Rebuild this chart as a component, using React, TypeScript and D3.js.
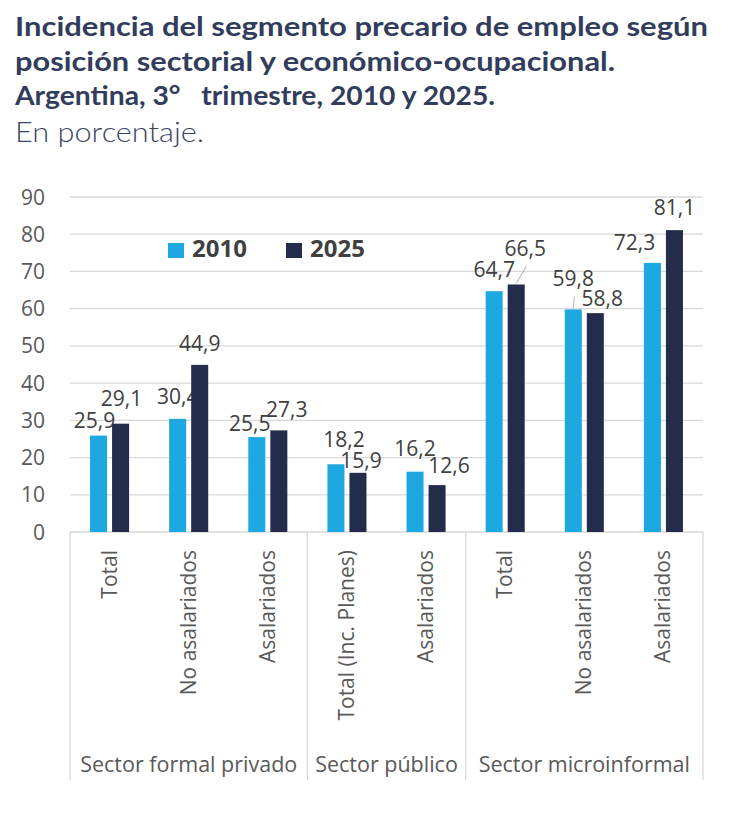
import { FC } from "react";
import * as d3 from "d3";

const W = 730;
const H = 813;

const categories = [
  "Total",
  "No asalariados",
  "Asalariados",
  "Total (Inc. Planes)",
  "Asalariados",
  "Total",
  "No asalariados",
  "Asalariados",
];
const groups = ["Sector formal privado", "Sector público", "Sector microinformal"];
const groupSizes = [3, 2, 3];
const years = ["2010", "2025"];
const values2010 = [25.9, 30.4, 25.5, 18.2, 16.2, 64.7, 59.8, 72.3];
const values2025 = [29.1, 44.9, 27.3, 15.9, 12.6, 66.5, 58.8, 81.1];
const yTicks = [0, 10, 20, 30, 40, 50, 60, 70, 80, 90];

// manual label placement, like the Excel original [dx, dy]
const nudge2010 = [[-4, -2], [0, -9], [-7, 0], [8, -11], [0, -10], [0, -8], [0, -17], [-18, -7]];
const nudge2025 = [[1, -12], [0, -8], [8, -7], [3, 1], [12, -6], [9, -22], [7, -1], [0, -9]];
const leader2010 = [false, false, false, false, false, false, true, false];
const leader2025 = [false, false, false, false, false, true, false, false];

const COLORS = ["#1DA8E1", "#232C4B"];
const TITLE = "#323C5C";
const GRID = "#D9D9D9";
const TXT = "#595959";
const LBL = "#404040";
const FONT = "'Open Sans', sans-serif";

const left = 70;
const right = 703;
const top = 197;
const bottom = 532;

const App: FC = () => {
  const y = d3.scaleLinear().domain([0, 90]).range([bottom, top]);
  const idx = categories.map((_, i) => i);
  const x = d3.scaleBand<number>().domain(idx).range([left, right]);
  const xs = d3
    .scaleBand<string>()
    .domain(years)
    .range([0, x.bandwidth()])
    .paddingInner(0.227)
    .paddingOuter(0.91);
  const series = [values2010, values2025];
  const nudges = [nudge2010, nudge2025];
  const leaders = [leader2010, leader2025];

  // group boundaries
  const bounds: number[] = [left];
  let acc = 0;
  groupSizes.forEach((n) => {
    acc += n;
    bounds.push(acc < categories.length ? x(acc)! : right);
  });

  return (
    <svg width={W} height={H} style={{ position: "absolute", left: 0, top: 0, background: "#fff" }}>
      <g fill={TITLE} fontFamily="Lato, sans-serif" fontWeight={700} fontSize={26}>
        <text x={15} y={36} textLength={693} lengthAdjust="spacingAndGlyphs">
          Incidencia del segmento precario de empleo según
        </text>
        <text x={15} y={71} textLength={600} lengthAdjust="spacingAndGlyphs">
          posición sectorial y económico-ocupacional.
        </text>
        <text x={15} y={105} textLength={480} lengthAdjust="spacingAndGlyphs" xmlSpace="preserve">
          Argentina, 3°   trimestre, 2010 y 2025.
        </text>
      </g>
      <text x={15} y={142} fill="#3A4566" fontFamily="Lato, sans-serif" fontWeight={300} fontSize={27} textLength={189} lengthAdjust="spacingAndGlyphs">
        En porcentaje.
      </text>

      {yTicks.map((t) => (
        <g key={t}>
          <line x1={left} x2={right} y1={y(t)} y2={y(t)} stroke={GRID} strokeWidth={1.3} />
          <text x={45} y={y(t)} dy="0.36em" textAnchor="end" fontFamily={FONT} fontSize={21} fill={TXT}>
            {t}
          </text>
        </g>
      ))}

      {bounds.map((b, i) => (
        <line key={i} x1={b} x2={b} y1={bottom} y2={780} stroke={GRID} strokeWidth={1.3} />
      ))}

      {series.map((vals, s) =>
        vals.map((v, i) => {
          const bx = x(i)! + xs(years[s])!;
          const cx = bx + xs.bandwidth() / 2;
          const [dx, dy] = nudges[s][i];
          const lx = cx + dx;
          const ly = y(v) - 6 + dy;
          return (
            <g key={`${s}-${i}`}>
              <rect x={bx} y={y(v)} width={xs.bandwidth()} height={bottom - y(v)} fill={COLORS[s]} />
              {leaders[s][i] && (
                <line x1={cx} y1={y(v) - 1} x2={lx + 1} y2={ly + 10} stroke="#BFBFBF" strokeWidth={1.2} />
              )}
              <text x={lx} y={ly} textAnchor="middle" fontFamily={FONT} fontSize={21} fill={LBL}>
                {d3.format(".1f")(v).replace(".", ",")}
              </text>
            </g>
          );
        })
      )}

      {categories.map((c, i) => {
        const cx = x(i)! + x.bandwidth() / 2 + 7;
        return (
          <text
            key={i}
            transform={`translate(${cx},550) rotate(-90)`}
            textAnchor="end"
            fontFamily={FONT}
            fontSize={21}
            fill={TXT}
          >
            {c}
          </text>
        );
      })}

      {groups.map((g, i) => (
        <text
          key={g}
          x={(bounds[i] + bounds[i + 1]) / 2}
          y={772}
          textAnchor="middle"
          fontFamily={FONT}
          fontSize={21.5}
          fill={TXT}
        >
          {g}
        </text>
      ))}

      {years.map((yr, i) => (
        <g key={yr}>
          <rect x={168 + i * 118} y={243} width={16} height={15} fill={COLORS[i]} />
          <text x={192 + i * 118} y={257} fontFamily={FONT} fontWeight={700} fontSize={24} fill={LBL}>
            {yr}
          </text>
        </g>
      ))}
    </svg>
  );
};

export default App;
